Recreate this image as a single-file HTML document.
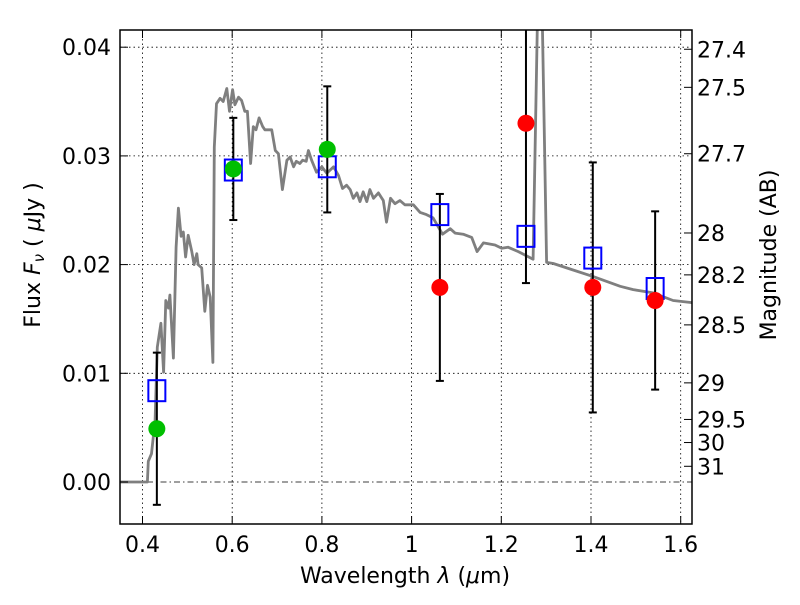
<!DOCTYPE html>
<html><head><meta charset="utf-8"><style>
body{margin:0;background:#fff;width:800px;height:600px;overflow:hidden}
svg text{font-family:"DejaVu Sans","Liberation Sans",sans-serif;fill:#000}
</style></head><body>
<svg id="chart" width="800" height="600" xmlns="http://www.w3.org/2000/svg">
<defs><clipPath id="plotclip"><rect x="120" y="30" width="572" height="494"/></clipPath></defs>
<rect x="0" y="0" width="800" height="600" fill="#fff"/>
<g id="grid"></g>
<g id="spec" clip-path="url(#plotclip)"></g>
<g id="marks" clip-path="url(#plotclip)"></g>
<rect x="120" y="30" width="572" height="494" fill="none" stroke="#000" stroke-width="1.5"/>
<g id="axes"></g>
<text x="405" y="583" text-anchor="middle" font-size="22">Wavelength  <tspan font-style="italic">λ</tspan> (<tspan font-style="italic">μ</tspan>m)</text>
<text transform="translate(40,255) rotate(-90)" text-anchor="middle" font-size="22">Flux  <tspan font-style="italic">F</tspan><tspan font-style="italic" font-size="15" dy="4">ν</tspan><tspan dy="-4">  ( </tspan><tspan font-style="italic">μ</tspan>Jy )</text>
<text transform="translate(776,255) rotate(-90)" text-anchor="middle" font-size="22">Magnitude (AB)</text>
</svg>
<script>
const specLam=[0.32,0.411,0.413,0.420,0.428,0.433,0.441,0.447,0.452,0.458,0.461,0.469,0.475,0.480,0.486,0.491,0.496,0.502,0.510,0.515,0.521,0.524,0.532,0.539,0.545,0.551,0.557,0.560,0.565,0.573,0.580,0.588,0.594,0.601,0.606,0.614,0.621,0.628,0.634,0.641,0.647,0.653,0.660,0.668,0.673,0.678,0.688,0.696,0.703,0.712,0.722,0.729,0.737,0.743,0.751,0.757,0.765,0.770,0.777,0.788,0.800,0.811,0.826,0.837,0.846,0.855,0.863,0.870,0.878,0.885,0.892,0.900,0.907,0.915,0.926,0.937,0.944,0.953,0.963,0.974,0.985,1.004,1.019,1.033,1.048,1.069,1.086,1.097,1.115,1.134,1.146,1.160,1.186,1.201,1.215,1.238,1.271,1.286,1.301,1.316,1.360,1.405,1.465,1.494,1.539,1.583,1.625];
const specFlux=[0,0,0.0019,0.0026,0.0057,0.0124,0.0146,0.0101,0.0167,0.016,0.0172,0.0114,0.0216,0.0252,0.0226,0.023,0.0207,0.0227,0.0212,0.02,0.021,0.02,0.0197,0.0157,0.0181,0.017,0.011,0.0308,0.0348,0.0353,0.035,0.0362,0.0341,0.0361,0.0347,0.0354,0.0351,0.0341,0.0341,0.0293,0.0327,0.0324,0.0335,0.0327,0.0324,0.0324,0.0324,0.0305,0.0302,0.0269,0.0296,0.0299,0.029,0.0295,0.0293,0.0296,0.0295,0.0305,0.0296,0.0285,0.029,0.0284,0.029,0.0282,0.027,0.0273,0.0269,0.0261,0.0266,0.0258,0.0267,0.0258,0.0269,0.0261,0.0266,0.0259,0.0239,0.0261,0.0256,0.0259,0.0255,0.0255,0.0248,0.0246,0.0243,0.0228,0.0233,0.0229,0.0228,0.0225,0.0212,0.022,0.0218,0.0215,0.0216,0.0212,0.0205,0.055,0.0202,0.0201,0.0195,0.0189,0.018,0.0177,0.0174,0.0167,0.0165];
const bandLam=[0.432,0.6025,0.812,1.063,1.255,1.404,1.543];
const modelFlux=[0.0084,0.0287,0.029,0.0246,0.0226,0.0206,0.0178];
const obsFlux=[0.0049,0.0288,0.0306,0.0179,0.0330,0.0179,0.0167];
const obsErr=[0.0070,0.0047,0.0058,0.0086,0.0147,0.0115,0.0082];
const detected=[true,true,true,false,false,false,false];
const xTicks=[0.4,0.6,0.8,1.0,1.2,1.4,1.6];
const xTickLabels=["0.4","0.6","0.8","1","1.2","1.4","1.6"];
const yTicks=[0,0.01,0.02,0.03,0.04];
const yTickLabels=["0.00","0.01","0.02","0.03","0.04"];
const magTicks=[27.4,27.5,27.7,28,28.2,28.5,29,29.5,30,31];
const magTickLabels=["27.4","27.5","27.7","28","28.2","28.5","29","29.5","30","31"];

const NS="http://www.w3.org/2000/svg";
const X=v=>142.5+(v-0.4)*448.5;
const Y=v=>482-v*10870;
const magToFlux=m=>Math.pow(10,(23.9-m)/2.5);
function mk(tag,attrs,parent){const e=document.createElementNS(NS,tag);for(const k in attrs)e.setAttribute(k,attrs[k]);parent.appendChild(e);return e;}
const grid=document.getElementById('grid'),axes=document.getElementById('axes'),spec=document.getElementById('spec'),marks=document.getElementById('marks');

xTicks.forEach((t,i)=>{
  const g=mk('line',{x1:X(t),x2:X(t),y1:30,y2:524,stroke:'#000','stroke-width':0.8,'stroke-dasharray':'1.5,3'},grid);
  
  
  mk('line',{x1:X(t),x2:X(t),y1:524,y2:516,stroke:'#000','stroke-width':1},axes);
  mk('line',{x1:X(t),x2:X(t),y1:30,y2:38,stroke:'#000','stroke-width':1},axes);
  const tx=mk('text',{x:X(t),y:552,'text-anchor':'middle','font-size':22},axes);
  tx.textContent=xTickLabels[i];
  
  
});
yTicks.forEach((t,i)=>{
  const g=mk('line',{x1:120,x2:692,y1:Y(t),y2:Y(t),stroke:'#000','stroke-width':0.8,'stroke-dasharray':t===0?'6,3,1.5,3':'1.5,3'},grid);
  
  
  mk('line',{x1:120,x2:128,y1:Y(t),y2:Y(t),stroke:'#000','stroke-width':1},axes);
  const tx=mk('text',{x:111,y:Y(t)+8,'text-anchor':'end','font-size':22},axes);
  tx.textContent=yTickLabels[i];
  
  
});
magTicks.forEach((m,i)=>{
  const y=Y(magToFlux(m));
  mk('line',{x1:684,x2:692,y1:y,y2:y,stroke:'#000','stroke-width':1},axes);
  const tx=mk('text',{x:697,y:y+8,'text-anchor':'start','font-size':22},axes);
  tx.textContent=magTickLabels[i];
  
  
});

const pts=specLam.map((l,i)=>X(l).toFixed(1)+','+Y(specFlux[i]).toFixed(1)).join(' ');
const pl=mk('polyline',{points:pts,fill:'none',stroke:'#7f7f7f','stroke-width':2.8,'stroke-linejoin':'round'},spec);



bandLam.forEach((l,i)=>{
  const x=X(l);
  const top=Y(obsFlux[i]+obsErr[i]),bot=Y(obsFlux[i]-obsErr[i]);
  const eb=mk('g',{},marks);
  
  
  mk('line',{x1:x,x2:x,y1:top,y2:bot,stroke:'#000','stroke-width':2},eb);
  mk('line',{x1:x-4,x2:x+4,y1:top,y2:top,stroke:'#000','stroke-width':2},eb);
  mk('line',{x1:x-4,x2:x+4,y1:bot,y2:bot,stroke:'#000','stroke-width':2},eb);
  const sq=mk('rect',{x:x-8.5,y:Y(modelFlux[i])-10.5,width:17,height:21,fill:'none',stroke:'#0000ff','stroke-width':2},marks);
  
  
  const c=mk('circle',{cx:x,cy:Y(obsFlux[i]),r:8.5,fill:detected[i]?'#00bf00':'#ff0000'},marks);
  
  
});
</script>
</body></html>
